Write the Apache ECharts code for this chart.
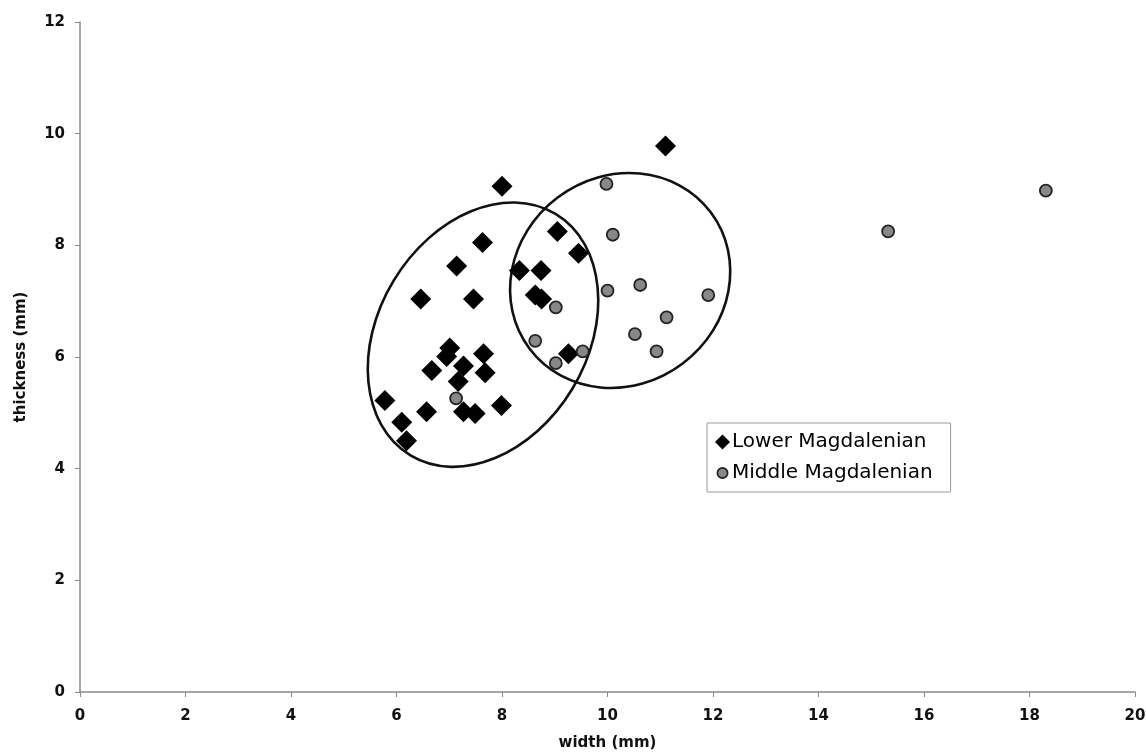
<!DOCTYPE html>
<html>
<head>
<meta charset="utf-8">
<script src="https://cdn.jsdelivr.net/npm/echarts@6/dist/echarts.min.js"></script>
<style>
  html, body { margin: 0; padding: 0; background: #ffffff; }
  #chart { width: 1146px; height: 753px; }
</style>
</head>
<body>
<div id="chart"></div>
<script>
// ---- data (width mm, thickness mm) ----
var lowerX = [11.1, 8.0, 9.05, 9.45, 7.63, 7.14, 8.33, 8.74, 6.46, 7.46, 8.63, 8.75, 7.01, 6.95, 7.65, 7.27, 7.68, 6.67, 7.17, 9.26, 5.78, 7.99, 6.57, 7.27, 7.49, 6.10, 6.19];
var lowerY = [9.78, 9.06, 8.25, 7.86, 8.05, 7.63, 7.55, 7.55, 7.04, 7.04, 7.11, 7.04, 6.16, 6.01, 6.06, 5.84, 5.72, 5.76, 5.56, 6.06, 5.22, 5.13, 5.02, 5.02, 4.99, 4.83, 4.50];
var middleX = [9.98, 10.10, 10.0, 10.62, 11.91, 9.02, 11.12, 10.52, 8.63, 10.93, 9.53, 9.02, 7.13, 15.32, 18.31];
var middleY = [9.10, 8.19, 7.19, 7.29, 7.11, 6.89, 6.71, 6.41, 6.29, 6.10, 6.10, 5.89, 5.26, 8.25, 8.98];
var seriesNames = ['Lower Magdalenian', 'Middle Magdalenian'];
var xTicks = [0, 2, 4, 6, 8, 10, 12, 14, 16, 18, 20];
var yTicks = [0, 2, 4, 6, 8, 10, 12];
// ellipse annotations: centre (data units), semi-axes (x-axis units), tilt (deg)
var ellipseCX = [7.64, 10.24];
var ellipseCY = [6.40, 7.37];
var ellipseA = [2.67, 2.15];
var ellipseB = [1.98, 1.97];
var ellipseTilt = [59, 37];

function zip(a, b) { return a.map(function (v, i) { return [v, b[i]]; }); }
var ellipseData = ellipseCX.map(function (v, i) { return [v, ellipseCY[i], ellipseA[i], ellipseB[i], ellipseTilt[i]]; });

var circleIcon = 'image://data:image/svg+xml;utf8,' + encodeURIComponent(
  '<svg xmlns="http://www.w3.org/2000/svg" width="14" height="14" viewBox="0 0 14 14">' +
  '<circle cx="7" cy="7" r="4.8" fill="#888888" stroke="#222222" stroke-width="1.6"/></svg>');

var font = 'DejaVu Sans';
var chart = echarts.init(document.getElementById('chart'));
chart.setOption({
  backgroundColor: '#ffffff',
  animation: false,
  grid: { left: 80, right: 11, top: 22, bottom: 61, containLabel: false, outerBoundsMode: 'none' },
  xAxis: {
    type: 'value', min: xTicks[0], max: xTicks[xTicks.length - 1], interval: 2,
    name: 'width (mm)', nameLocation: 'middle', nameGap: 44,
    nameTextStyle: { fontFamily: font, fontWeight: 'bold', fontSize: 15, color: '#111' },
    axisLine: { lineStyle: { color: '#8a8a8a', width: 1.5 } },
    axisTick: { show: true, length: 5, lineStyle: { color: '#8a8a8a' } },
    axisLabel: { fontFamily: font, fontWeight: 'bold', fontSize: 15, color: '#111', margin: 17 },
    splitLine: { show: false }
  },
  yAxis: {
    type: 'value', min: yTicks[0], max: yTicks[yTicks.length - 1], interval: 2,
    name: 'thickness (mm)', nameLocation: 'middle', nameGap: 51,
    nameTextStyle: { fontFamily: font, fontWeight: 'bold', fontSize: 15, color: '#111' },
    axisLine: { show: true, lineStyle: { color: '#8a8a8a', width: 1.5 } },
    axisTick: { show: true, length: 5, lineStyle: { color: '#8a8a8a' } },
    axisLabel: { fontFamily: font, fontWeight: 'bold', fontSize: 15, color: '#111', margin: 15 },
    splitLine: { show: false }
  },
  legend: {
    orient: 'vertical', left: 707, top: 423,
    padding: [9, 18, 9, 8],
    itemGap: 11,
    itemWidth: 15, itemHeight: 15,
    borderColor: '#9a9a9a', borderWidth: 1,
    backgroundColor: '#ffffff',
    textStyle: { fontFamily: font, fontSize: 20, color: '#000', padding: [0, 0, 0, -3] },
    data: [
      { name: seriesNames[0], icon: 'diamond' },
      { name: seriesNames[1], icon: circleIcon }
    ]
  },
  series: [
    {
      type: 'custom',
      name: 'ellipses',
      silent: true,
      z: 1,
      data: ellipseData,
      renderItem: function (params, api) {
        var c = api.coord([api.value(0), api.value(1)]);
        var unit = api.size([1, 1])[0];
        return {
          type: 'ellipse',
          x: c[0], y: c[1],
          rotation: api.value(4) * Math.PI / 180,
          shape: { cx: 0, cy: 0, rx: api.value(2) * unit, ry: api.value(3) * unit },
          style: { fill: 'none', stroke: '#111', lineWidth: 2.6 }
        };
      }
    },
    {
      type: 'scatter', name: seriesNames[0], z: 3,
      symbol: 'diamond', symbolSize: 21,
      itemStyle: { color: '#000000', opacity: 1 },
      data: zip(lowerX, lowerY)
    },
    {
      type: 'scatter', name: seriesNames[1], z: 4,
      symbol: 'circle', symbolSize: 12,
      itemStyle: { color: '#888888', borderColor: '#222', borderWidth: 1.8, opacity: 1 },
      data: zip(middleX, middleY)
    }
  ]
});
</script>
</body>
</html>
